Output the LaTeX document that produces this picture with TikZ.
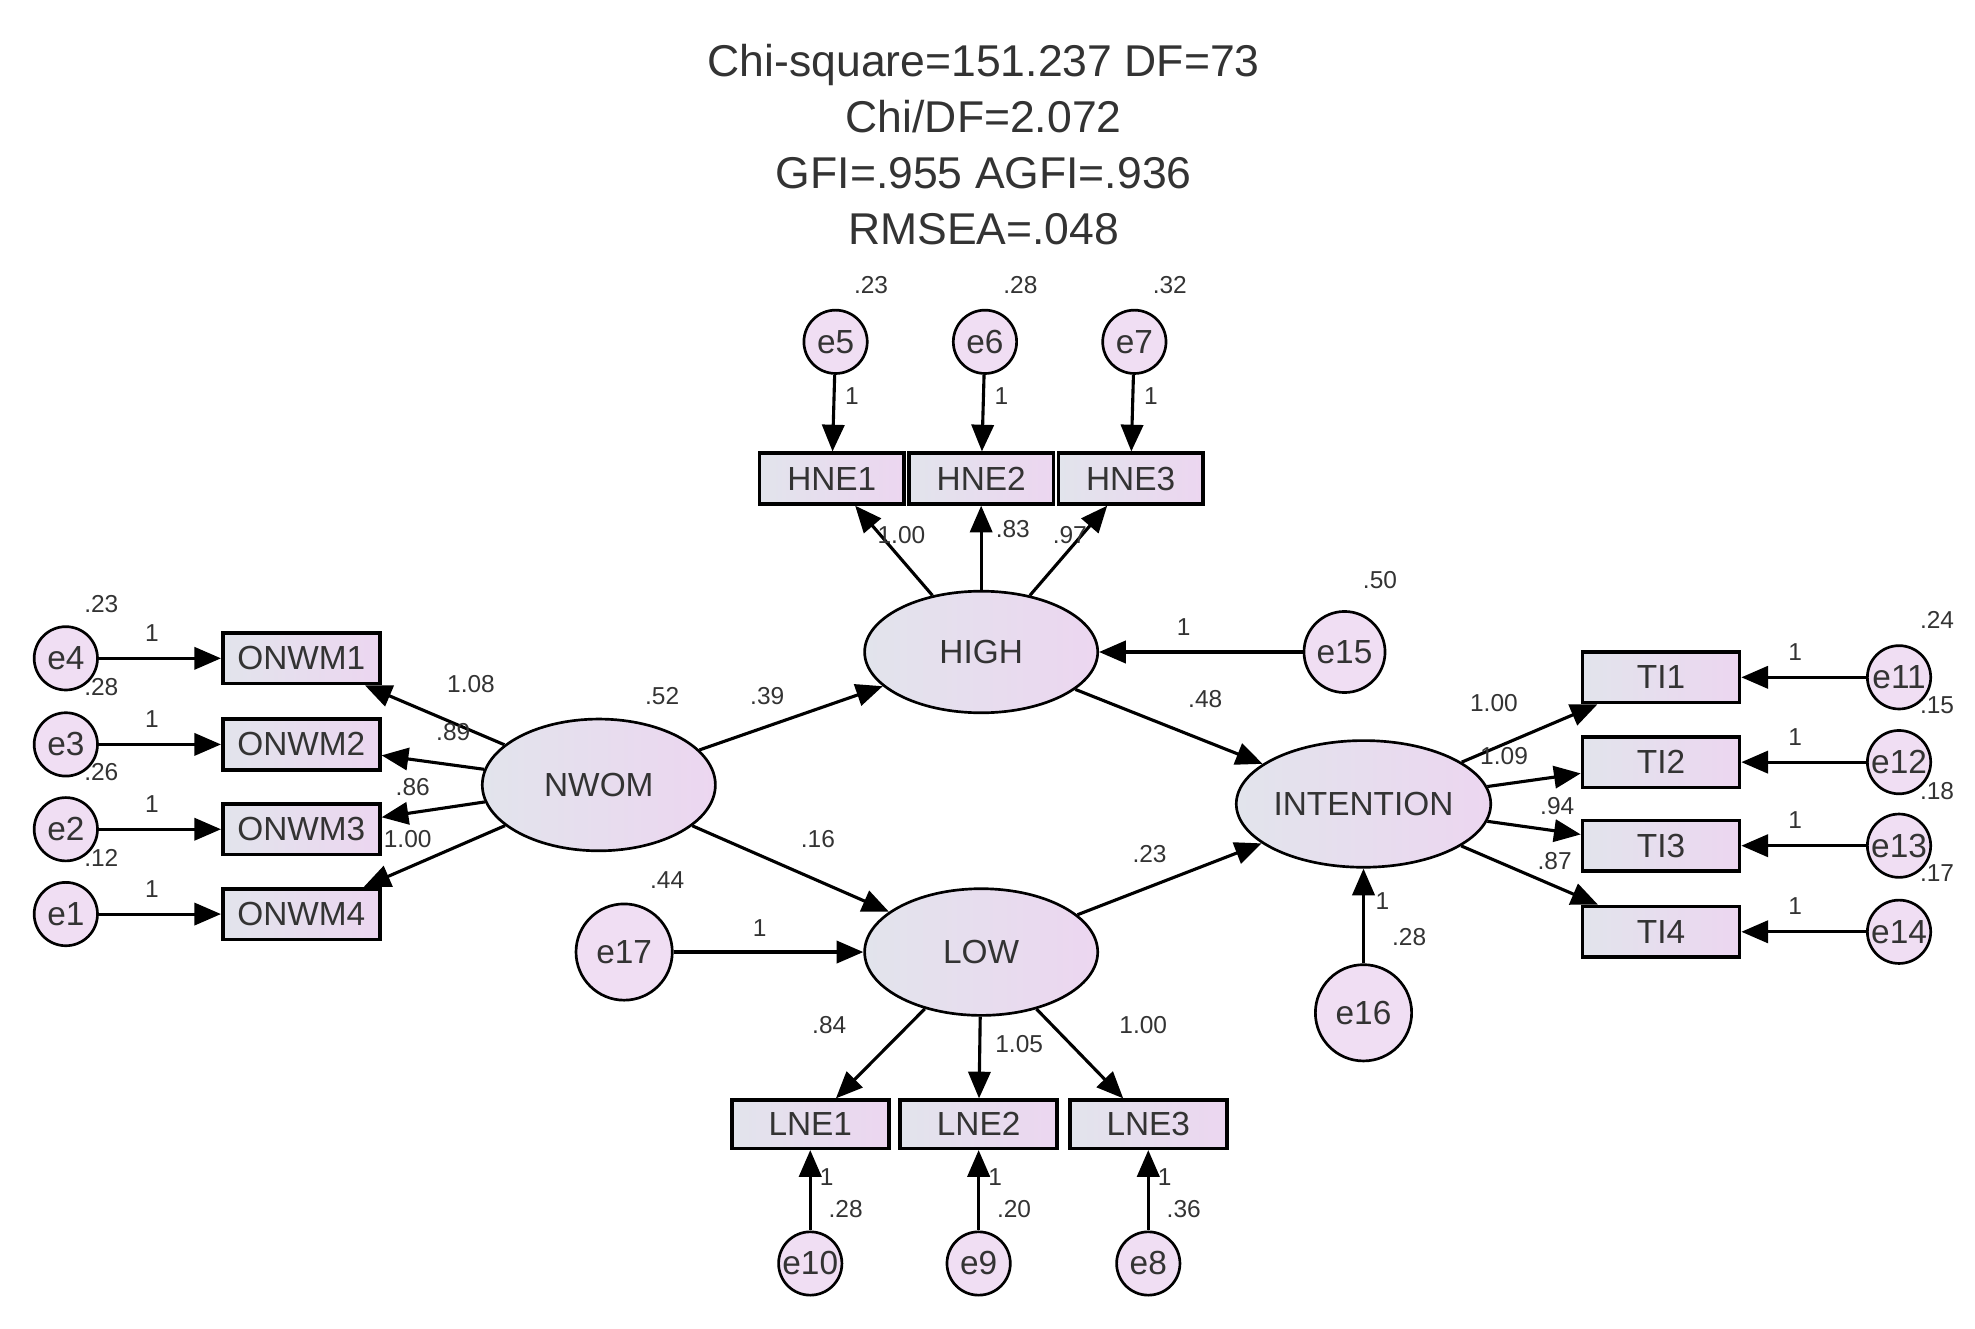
\documentclass[tikz,border=0pt]{standalone}
\usepackage{fontspec}
\setmainfont{Liberation Sans}
\usetikzlibrary{arrows.meta,shapes.geometric}
\definecolor{gA}{HTML}{E2E4EC}
\definecolor{gB}{HTML}{ECD6F0}
\definecolor{txt}{HTML}{333333}
\begin{document}
\begin{tikzpicture}[x=0.01cm,y=-0.01cm,
  font=\fontsize{7.5}{8}\selectfont, text=txt,
  lat/.style={ellipse,draw,line width=0.6pt,left color=gA,right color=gB,minimum width=1.84cm,minimum height=0.96cm,inner sep=0},
  box/.style={rectangle,draw,line width=0.8pt,left color=gA,right color=gB,minimum width=1.22cm,minimum height=0.4cm,inner sep=0},
  err/.style={circle,draw,line width=0.6pt,fill=gB!80,minimum size=0.5cm,inner sep=0},
  bigerr/.style={err,minimum size=0.76cm},
  ar/.style={-{Triangle[length=6pt,width=5pt]},line width=0.7pt},
  num/.style={font=\fontsize{5.5}{6}\selectfont}]
\useasboundingbox (0,0) rectangle (1560,1049);
\node[align=center,font=\fontsize{10}{12.6}\selectfont] at (777,114) {Chi-square=151.237 DF=73\\Chi/DF=2.072\\GFI=.955 AGFI=.936\\RMSEA=.048};
% latent
\node[lat] (high) at (775,515) {HIGH};
\node[lat,minimum height=1.04cm] (nwom) at (473,620) {NWOM};
\node[lat,minimum height=1.0cm] (low) at (775,752) {LOW};
\node[lat,minimum width=1.8cm,minimum height=1.0cm] (int) at (1077,635) {INTENTION};
% HNE
\foreach \n/\x/\lab in {1/657/.23,2/775/.28,3/893/.32}{
  \node[box,minimum width=1.14cm] (hne\n) at (\x,378) {HNE\n};
  \node[err] (e\the\numexpr\n+4\relax) at (\x+3,270) {e\the\numexpr\n+4\relax};
  \node[num] at (\x+31,225) {\lab};
  \draw[ar] (e\the\numexpr\n+4\relax) -- (hne\n);
  \node[num] at (\x+16,313) {1};
}
\draw[ar] (high) -- (hne1); \draw[ar] (high) -- (hne2); \draw[ar] (high) -- (hne3);
\node[num] at (712,423) {1.00}; \node[num] at (800,418) {.83}; \node[num] at (845,423) {.97};
% e15
\node[bigerr,minimum size=0.64cm] (e15) at (1062,515) {e15};
\node[num] at (1090,458) {.50}; \node[num] at (935,495) {1};
\draw[ar] (e15) -- (high);
% ONWM
\foreach \i/\y/\e/\v/\vy/\l/\lx/\ly in {1/520/4/.23/477/1.08/372/540,2/588/3/.28/543/.89/358/578,3/655/2/.26/610/.86/326/622,4/722/1/.12/678/1.00/322/663}{
  \node[box,minimum width=1.24cm] (onwm\i) at (238,\y) {ONWM\i};
  \node[err] (e\e) at (52,\y) {e\e};
  \node[num] at (80,\vy) {\v};
  \node[num] at (120,\y-20) {1};
  \draw[ar] (e\e) -- (onwm\i);
  \draw[ar] (nwom) -- (onwm\i);
  \node[num] at (\lx,\ly) {\l};
}
\node[num] at (523,550) {.52};
% structural
\draw[ar] (nwom) -- (high); \node[num] at (606,550) {.39};
\draw[ar] (nwom) -- (low); \node[num] at (646,663) {.16};
\draw[ar] (high) -- (int); \node[num] at (952,552) {.48};
\draw[ar] (low) -- (int); \node[num] at (908,675) {.23};
\node[bigerr] (e17) at (493,752) {e17};
\node[num] at (527,695) {.44}; \node[num] at (600,733) {1};
\draw[ar] (e17) -- (low);
\node[bigerr] (e16) at (1077,800) {e16};
\node[num] at (1092,712) {1}; \node[num] at (1113,740) {.28};
\draw[ar] (e16) -- (int);
% TI
\foreach \i/\y/\e/\v/\vy/\l/\lx/\ly in {1/535/11/.24/490/1.00/1180/555,2/602/12/.15/557/1.09/1188/597,3/668/13/.18/625/.94/1230/637,4/736/14/.17/690/.87/1228/680}{
  \node[box,minimum width=1.24cm] (ti\i) at (1312,\y) {TI\i};
  \node[err] (e\e) at (1500,\y) {e\e};
  \node[num] at (1530,\vy) {\v};
  \node[num] at (1418,\y-20) {1};
  \draw[ar] (e\e) -- (ti\i);
  \draw[ar] (int) -- (ti\i);
  \node[num] at (\lx,\ly) {\l};
}
% LNE
\foreach \i/\x/\e/\v in {1/640/10/.28,2/773/9/.20,3/907/8/.36}{
  \node[box,minimum width=1.24cm,minimum height=0.38cm] (lne\i) at (\x,888) {LNE\i};
  \node[err] (e\e) at (\x,998) {e\e};
  \node[num] at (\x+28,955) {\v};
  \node[num] at (\x+13,930) {1};
  \draw[ar] (e\e) -- (lne\i);
  \draw[ar] (low) -- (lne\i);
}
\node[num] at (655,810) {.84}; \node[num] at (805,825) {1.05}; \node[num] at (903,810) {1.00};
\end{tikzpicture}
\end{document}
